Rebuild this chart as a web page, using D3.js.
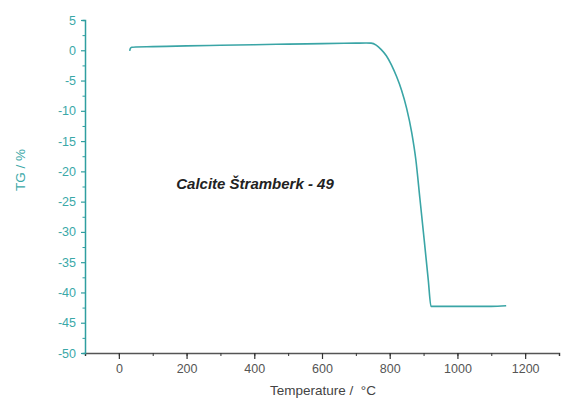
<!DOCTYPE html>
<html><head><meta charset="utf-8">
<script src="https://cdn.jsdelivr.net/npm/d3@7"></script>
<style>body{margin:0;background:#fff}svg{display:block}</style>
</head><body>
<svg id="c" width="563" height="401"></svg>
<script>
const temps = [32, 34, 38, 50, 100, 200, 300, 400, 500, 600, 700, 730, 745, 760, 775, 790, 805, 820, 835, 850, 865, 877, 889, 902, 914, 922, 1000, 1100, 1144];
const tg    = [-0.1, 0.3, 0.5, 0.55, 0.6, 0.72, 0.82, 0.92, 1.02, 1.1, 1.18, 1.2, 1.18, 0.85, 0.1, -0.9, -2.4, -4.3, -6.6, -9.6, -13.6, -18.0, -24.4, -31.4, -38.0, -42.3, -42.3, -42.3, -42.2];
const xTicks = [0, 200, 400, 600, 800, 1000, 1200];
const yTicks = [5, 0, -5, -10, -15, -20, -25, -30, -35, -40, -45, -50];
const title = "Calcite Štramberk - 49";
const xLabel = "Temperature /  °C";
const yLabel = "TG / %";

const teal = "#2f9ea0";
const font = "Liberation Sans, Arial, sans-serif";
const svg = d3.select("#c");
const m = {l:85, r:4, t:20, b:48};
const W = 563, H = 401;
const x = d3.scaleLinear().domain([-100, 1300]).range([m.l, W - m.r]);
const y = d3.scaleLinear().domain([-50, 5]).range([H - m.b, m.t]);
const fmt = d => String(d);

// X axis
const gx = svg.append("g").attr("transform", `translate(0,${H - m.b})`);
gx.call(d3.axisBottom(x).tickValues(d3.range(-100, 1301, 100)).tickSize(3).tickFormat(""))
  .call(g => g.select(".domain").attr("stroke", "#555").attr("stroke-width", 1.5))
  .call(g => g.selectAll(".tick line").attr("stroke", "#333"));
gx.append("g").call(d3.axisBottom(x).tickValues(xTicks).tickSize(6).tickPadding(5).tickFormat(fmt))
  .call(g => g.select(".domain").remove())
  .call(g => g.selectAll(".tick line").attr("stroke", "#333").attr("stroke-width", 1.2))
  .call(g => g.selectAll("text").attr("fill", "#555").attr("font-size", 12.5).attr("font-family", font));

// Y axis
const gy = svg.append("g").attr("transform", `translate(${m.l},0)`);
gy.call(d3.axisLeft(y).tickValues(d3.range(-47.5, 5, 5)).tickSize(2.5).tickFormat(""))
  .call(g => g.select(".domain").attr("stroke", teal).attr("stroke-width", 1.5))
  .call(g => g.selectAll(".tick line").attr("stroke", teal));
gy.append("g").call(d3.axisLeft(y).tickValues(yTicks).tickSize(4).tickPadding(5).tickFormat(fmt))
  .call(g => g.select(".domain").remove())
  .call(g => g.selectAll(".tick line").attr("stroke", teal).attr("stroke-width", 1.2))
  .call(g => g.selectAll("text").attr("fill", "#3aa8a8").attr("font-size", 12.5).attr("font-family", font));

// Curve
const data = temps.map((t, i) => ({t, v: tg[i]}));
svg.append("path").datum(data)
  .attr("fill", "none").attr("stroke", "#3aa5a6").attr("stroke-width", 1.6)
  .attr("d", d3.line().x(d => x(d.t)).y(d => y(d.v)).curve(d3.curveMonotoneX));

// Labels
svg.append("text").attr("x", 323).attr("y", 395).attr("text-anchor", "middle")
  .style("white-space", "pre")
  .attr("font-size", 13.5).attr("fill", "#444").attr("font-family", font).text(xLabel);
svg.append("text").attr("transform", "translate(25,170) rotate(-90)").attr("text-anchor", "middle")
  .style("white-space", "pre")
  .attr("font-size", 13.5).attr("fill", "#3aa8a8").attr("font-family", font).text(yLabel);
svg.append("text").attr("x", 255).attr("y", 189).attr("text-anchor", "middle")
  .attr("font-size", 15).attr("font-weight", "bold").attr("font-style", "italic").attr("fill", "#222")
  .attr("font-family", font).text(title);
</script>
</body></html>
